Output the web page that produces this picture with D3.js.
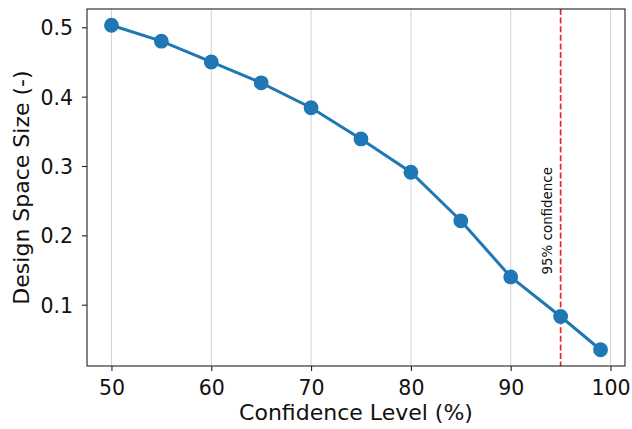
<!DOCTYPE html>
<html>
<head>
<meta charset="utf-8">
<script src="https://cdn.jsdelivr.net/npm/d3@7"></script>
<style>
  body { margin: 0; background: #fff; }
  svg { font-family: "DejaVu Sans", sans-serif; }
</style>
</head>
<body>
<svg id="chart" width="632" height="429"></svg>
<script>
// Data
const confidence = [50, 55, 60, 65, 70, 75, 80, 85, 90, 95, 99];
const spaceSize = [0.503, 0.480, 0.450, 0.420, 0.384, 0.339, 0.291, 0.221, 0.140, 0.083, 0.035];
const xTicks = [50, 60, 70, 80, 90, 100];
const yTicks = [0.1, 0.2, 0.3, 0.4, 0.5];
const refLevel = 95;
const refLabel = '95% confidence';
const refLabelPos = [93.7, 0.221];

const svg = d3.select('#chart');
const margin = {top: 9, right: 7, bottom: 63, left: 87};
const width = +svg.attr('width') - margin.left - margin.right;
const height = +svg.attr('height') - margin.top - margin.bottom;
const g = svg.append('g').attr('transform', `translate(${margin.left},${margin.top})`);

// matplotlib-style 5% margins
const xPad = (d3.max(confidence) - d3.min(confidence)) * 0.05;
const yPad = (d3.max(spaceSize) - d3.min(spaceSize)) * 0.05;

const x = d3.scaleLinear()
  .domain([d3.min(confidence) - xPad, d3.max(confidence) + xPad])
  .range([0, width]);

const y = d3.scaleLinear()
  .domain([d3.min(spaceSize) - yPad, d3.max(spaceSize) + yPad])
  .range([height, 0]);

// vertical grid
g.append('g')
  .selectAll('line')
  .data(xTicks)
  .enter().append('line')
  .attr('x1', d => x(d)).attr('x2', d => x(d))
  .attr('y1', 0).attr('y2', height)
  .attr('stroke', '#d6d6d6')
  .attr('stroke-width', 1.1);

// reference line
g.append('line')
  .attr('x1', x(refLevel)).attr('x2', x(refLevel))
  .attr('y1', 0).attr('y2', height)
  .attr('stroke', '#e8262b')
  .attr('stroke-width', 1.7)
  .attr('stroke-dasharray', '6,2.6');

g.append('text')
  .attr('transform', `translate(${x(refLabelPos[0])},${y(refLabelPos[1])}) rotate(-90)`)
  .attr('text-anchor', 'middle')
  .attr('dy', '0.35em')
  .style('font-size', '13.4px')
  .attr('fill', '#111')
  .text(refLabel);

// line + markers
const points = confidence.map((c, i) => [c, spaceSize[i]]);
g.append('path')
  .datum(points)
  .attr('fill', 'none')
  .attr('stroke', '#1f77b4')
  .attr('stroke-width', 3)
  .attr('d', d3.line().x(d => x(d[0])).y(d => y(d[1])));

g.selectAll('.dot')
  .data(points)
  .enter().append('circle')
  .attr('class', 'dot')
  .attr('cx', d => x(d[0]))
  .attr('cy', d => y(d[1]))
  .attr('r', 7.4)
  .attr('fill', '#1f77b4');

// axes
const xAxis = g.append('g')
  .attr('transform', `translate(0,${height})`)
  .call(d3.axisBottom(x).tickValues(xTicks).tickSize(5).tickPadding(9).tickSizeOuter(0));

const yAxis = g.append('g')
  .call(d3.axisLeft(y).tickValues(yTicks).tickFormat(d3.format('.1f')).tickSize(5).tickPadding(9).tickSizeOuter(0));

[xAxis, yAxis].forEach(a => {
  a.selectAll('text').style('font-size', '20.5px').attr('fill', '#111').style('font-family', '"DejaVu Sans", sans-serif');
  a.selectAll('.tick line').attr('stroke', '#222').attr('stroke-width', 1.1);
  a.select('.domain').remove();
});
yAxis.selectAll('text').attr('dy', '0.36em');

// box
g.append('rect')
  .attr('width', width).attr('height', height)
  .attr('fill', 'none')
  .attr('stroke', '#222')
  .attr('stroke-width', 1.1);

// labels
svg.append('text')
  .attr('x', margin.left + width / 2)
  .attr('y', 420)
  .attr('text-anchor', 'middle')
  .style('font-size', '22px')
  .attr('fill', '#111')
  .text('Confidence Level (%)');

svg.append('text')
  .attr('transform', `translate(29,${margin.top + height / 2}) rotate(-90)`)
  .attr('text-anchor', 'middle')
  .style('font-size', '22px')
  .attr('fill', '#111')
  .text('Design Space Size (-)');
</script>
</body>
</html>
